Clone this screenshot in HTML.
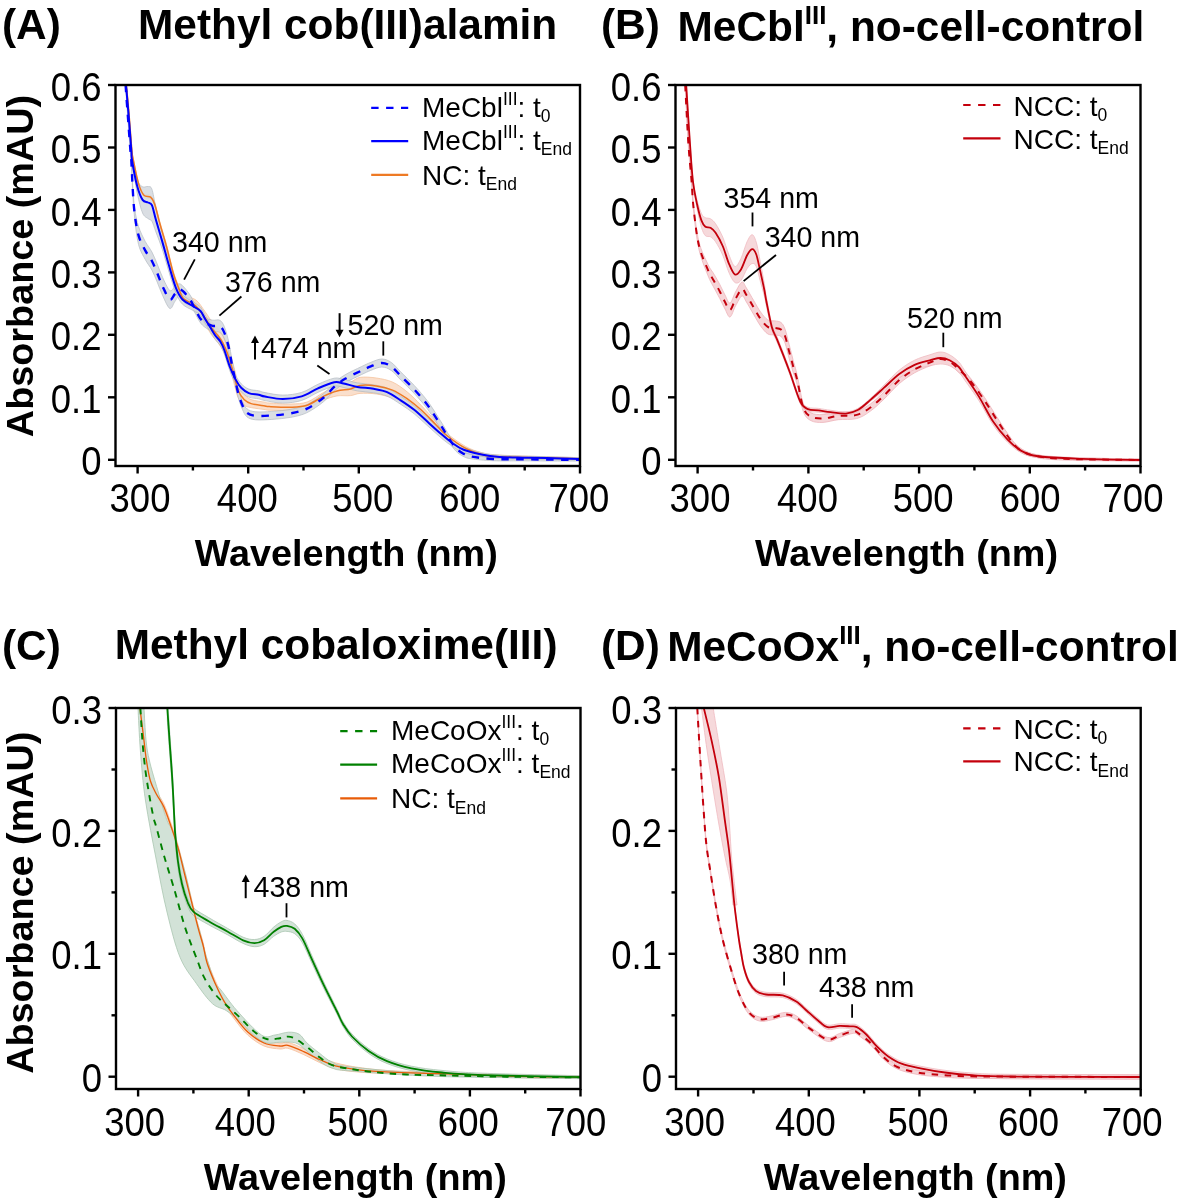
<!DOCTYPE html>
<html><head><meta charset="utf-8">
<style>
html,body{margin:0;padding:0;background:#fff;}
svg{display:block;will-change:transform;}
text{font-family:"Liberation Sans", sans-serif;fill:#000;}
.tk{font-size:36.5px;}
.lab{font-size:37.8px;font-weight:bold;}
.ttl{font-size:42.4px;font-weight:bold;}
.sup{font-size:26px;}
.lg{font-size:28px;}
.ss{font-size:17.5px;}
.an{font-size:28.6px;}
</style></head><body>
<svg width="1181" height="1203" viewBox="0 0 1181 1203">
<defs>
<clipPath id="clipA"><rect x="115.5" y="85.0" width="464.5" height="381.0"/></clipPath>
<clipPath id="clipB"><rect x="675.5" y="85.0" width="465.0" height="381.0"/></clipPath>
<clipPath id="clipC"><rect x="116.0" y="708.0" width="464.5" height="381.0"/></clipPath>
<clipPath id="clipD"><rect x="676.0" y="708.0" width="464.7" height="381.0"/></clipPath>
</defs>
<g clip-path="url(#clipA)">
<path d="M126.3,83.5 C126.8,88.3 128.1,101.5 129.0,112.4 C129.9,123.2 131.1,140.8 131.8,148.4 C132.5,156.1 132.2,152.8 133.3,158.4 C134.4,164.1 136.8,176.4 138.6,182.3 C140.4,188.1 141.9,191.3 143.9,193.5 C145.9,195.7 148.8,194.0 150.6,195.5 C152.4,196.9 153.0,197.7 154.6,202.1 C156.2,206.6 157.9,214.9 159.9,222.0 C161.9,229.1 164.3,236.3 166.5,244.5 C168.7,252.7 171.2,264.2 173.2,271.1 C175.2,277.9 176.8,281.5 178.5,285.6 C180.2,289.7 180.6,293.4 183.4,295.7 C186.2,298.0 192.0,297.0 195.6,299.7 C199.2,302.3 202.3,307.9 205.0,311.5 C207.7,315.1 209.4,318.4 211.5,321.2 C213.6,324.0 215.9,325.9 217.8,328.3 C219.7,330.7 221.3,332.7 222.9,335.6 C224.5,338.5 226.0,341.8 227.4,345.6 C228.8,349.3 230.2,353.6 231.5,358.2 C232.8,362.8 234.4,368.9 235.5,373.1 C236.6,377.4 236.9,380.1 238.3,383.6 C239.7,387.0 242.0,391.3 244.1,393.9 C246.2,396.6 247.6,398.2 251.1,399.6 C254.6,401.0 262.0,401.6 265.0,402.2 C268.0,402.8 264.9,402.7 269.2,403.0 C273.5,403.3 284.6,404.2 290.9,404.0 C297.2,403.8 301.7,403.9 307.1,402.0 C312.5,400.1 318.4,395.3 323.4,392.6 C328.4,390.0 332.5,387.8 337.0,386.1 C341.5,384.3 346.7,383.6 350.5,382.2 C354.3,380.7 355.7,378.1 360.0,377.4 C364.3,376.7 370.9,377.2 376.3,378.0 C381.7,378.8 387.3,379.8 392.5,382.1 C397.7,384.4 402.6,388.2 407.4,392.1 C412.1,395.9 416.2,400.2 421.0,405.2 C425.8,410.1 431.6,416.9 435.9,421.6 C440.2,426.3 441.7,429.1 446.7,433.2 C451.7,437.4 459.9,443.3 465.7,446.5 C471.5,449.7 475.9,451.1 481.5,452.5 C487.1,454.0 482.9,454.2 499.3,455.1 C515.7,455.9 566.5,457.3 580.0,457.7 L580.0,459.7 C566.5,459.5 515.7,458.9 499.3,458.3 C482.9,457.7 487.1,457.4 481.5,456.1 C475.9,454.7 471.5,453.3 465.7,450.3 C459.9,447.2 451.7,441.5 446.7,437.8 C441.7,434.0 440.2,431.7 435.9,427.8 C431.6,423.9 425.8,418.1 421.0,414.4 C416.2,410.8 412.1,408.4 407.4,405.7 C402.6,403.0 397.7,400.1 392.5,398.1 C387.3,396.1 381.7,394.8 376.3,394.0 C370.9,393.2 364.3,393.1 360.0,393.4 C355.7,393.7 354.3,395.2 350.5,395.6 C346.7,396.1 341.5,395.2 337.0,395.9 C332.5,396.7 328.4,398.1 323.4,400.2 C318.4,402.3 312.5,406.7 307.1,408.4 C301.7,410.1 297.2,410.1 290.9,410.4 C284.6,410.7 273.5,410.3 269.2,410.2 C264.9,410.1 268.0,410.0 265.0,409.6 C262.0,409.2 254.6,408.3 251.1,407.6 C247.6,406.8 246.2,406.7 244.1,405.1 C242.0,403.4 239.7,400.5 238.3,397.8 C236.9,395.1 236.6,392.9 235.5,388.9 C234.4,384.9 232.8,378.5 231.5,373.8 C230.2,369.2 228.8,364.7 227.4,360.8 C226.0,356.9 224.5,353.4 222.9,350.4 C221.3,347.3 219.7,345.1 217.8,342.5 C215.9,339.9 213.6,337.8 211.5,334.8 C209.4,331.8 207.7,328.3 205.0,324.5 C202.3,320.7 199.2,315.6 195.6,311.7 C192.0,307.9 186.2,305.2 183.4,301.5 C180.6,297.8 180.2,294.0 178.5,289.6 C176.8,285.2 175.2,281.8 173.2,274.9 C171.2,268.1 168.7,256.5 166.5,248.3 C164.3,240.1 161.9,232.7 159.9,225.6 C157.9,218.5 156.2,210.1 154.6,205.7 C153.0,201.2 152.4,200.4 150.6,198.9 C148.8,197.5 145.9,199.1 143.9,196.9 C141.9,194.6 140.4,191.4 138.6,185.5 C136.8,179.6 134.4,167.2 133.3,161.6 C132.2,155.9 132.5,159.2 131.8,151.6 C131.1,143.9 129.9,126.3 129.0,115.4 C128.1,104.6 126.8,91.3 126.3,86.5 Z" fill="#fadfcc" stroke="#f5c4a0" stroke-width="0.8"/>
<path d="M125.6,83.5 C125.9,88.3 126.9,101.7 127.7,112.0 C128.5,122.3 129.6,137.7 130.2,145.3 C130.8,152.9 130.9,151.0 131.3,157.4 C131.7,163.8 132.1,175.2 132.6,183.7 C133.1,192.2 133.6,201.1 134.6,208.3 C135.6,215.4 136.8,221.2 138.6,226.7 C140.4,232.2 143.0,237.2 145.2,241.4 C147.4,245.6 149.9,248.2 151.9,252.0 C153.9,255.8 155.4,259.8 157.2,264.0 C159.0,268.2 160.4,272.8 162.5,277.2 C164.6,281.6 167.7,288.9 169.8,290.5 C171.9,292.1 173.2,287.7 175.0,286.7 C176.8,285.6 178.2,282.9 180.5,284.1 C182.8,285.3 186.8,290.4 189.1,293.6 C191.4,296.8 192.6,299.8 194.4,303.2 C196.2,306.6 198.2,311.6 200.0,314.1 C201.8,316.6 203.0,317.0 205.1,318.1 C207.2,319.1 210.2,319.8 212.7,320.2 C215.1,320.6 217.9,319.2 219.8,320.3 C221.8,321.4 222.9,323.1 224.4,326.9 C225.9,330.7 227.8,337.6 229.0,343.0 C230.2,348.5 230.9,354.4 231.9,359.4 C232.9,364.5 233.7,368.2 234.8,373.2 C235.9,378.2 237.0,384.8 238.3,389.5 C239.6,394.1 241.0,398.1 242.4,401.3 C243.8,404.5 244.8,407.1 247.0,408.9 C249.2,410.6 251.5,411.4 255.7,411.8 C259.8,412.2 266.0,411.8 271.9,411.4 C277.8,411.0 285.0,410.4 290.9,409.3 C296.8,408.2 301.7,407.2 307.1,404.6 C312.5,402.0 318.9,397.4 323.4,393.8 C327.9,390.2 330.6,386.1 334.2,382.9 C337.8,379.7 340.6,377.5 345.1,374.8 C349.6,372.1 357.0,368.8 361.3,366.7 C365.6,364.6 367.4,363.7 370.8,362.4 C374.2,361.1 378.3,359.0 381.7,359.0 C385.1,359.0 388.0,360.2 391.2,362.4 C394.4,364.5 396.9,368.1 400.7,371.9 C404.5,375.7 410.1,381.0 414.2,385.4 C418.3,389.8 422.3,394.4 425.4,398.3 C428.5,402.2 430.2,404.7 433.0,409.0 C435.8,413.3 439.6,419.5 442.3,423.8 C445.0,428.2 446.7,431.5 449.0,435.0 C451.3,438.5 453.6,442.2 455.9,444.9 C458.2,447.5 460.5,449.2 463.0,450.8 C465.5,452.3 466.1,453.1 471.1,454.2 C476.1,455.3 484.5,456.7 493.1,457.3 C501.8,457.9 508.5,457.5 523.0,457.8 C537.5,458.0 570.5,458.5 580.0,458.7 L580.0,461.1 C570.5,461.1 537.5,460.9 523.0,460.8 C508.5,460.8 501.8,461.1 493.1,460.7 C484.5,460.4 476.1,459.5 471.1,458.8 C466.1,458.0 465.5,457.5 463.0,456.2 C460.5,455.0 458.2,453.5 455.9,451.1 C453.6,448.8 451.3,445.3 449.0,442.0 C446.7,438.7 445.0,435.7 442.3,431.6 C439.6,427.4 435.8,421.2 433.0,417.0 C430.2,412.8 428.5,410.2 425.4,406.3 C422.3,402.4 418.3,397.8 414.2,393.4 C410.1,389.0 404.5,383.7 400.7,379.9 C396.9,376.1 394.4,372.5 391.2,370.4 C388.0,368.2 385.1,367.0 381.7,367.0 C378.3,367.0 374.2,369.1 370.8,370.4 C367.4,371.7 365.6,372.6 361.3,374.7 C357.0,376.8 349.6,380.1 345.1,382.8 C340.6,385.5 337.8,387.7 334.2,390.9 C330.6,394.1 327.9,398.2 323.4,401.8 C318.9,405.4 312.5,410.0 307.1,412.6 C301.7,415.2 296.8,416.2 290.9,417.3 C285.0,418.4 277.8,419.0 271.9,419.4 C266.0,419.8 259.8,420.2 255.7,419.8 C251.5,419.4 249.2,418.6 247.0,416.9 C244.8,415.1 243.8,412.5 242.4,409.3 C241.0,406.1 239.6,402.4 238.3,397.9 C237.0,393.5 235.9,387.3 234.8,382.6 C233.7,377.9 232.9,374.5 231.9,369.8 C230.9,365.0 230.2,359.3 229.0,354.2 C227.8,349.0 225.9,342.5 224.4,338.9 C222.9,335.3 221.8,333.6 219.8,332.3 C217.9,331.0 215.1,332.2 212.7,331.4 C210.2,330.6 207.2,328.9 205.1,327.3 C203.0,325.8 201.8,324.7 200.0,322.1 C198.2,319.5 196.2,315.0 194.4,311.8 C192.6,308.6 191.4,305.6 189.1,302.8 C186.8,300.0 182.8,295.3 180.5,295.1 C178.2,294.9 176.8,299.1 175.0,301.3 C173.2,303.6 171.9,309.5 169.8,308.5 C167.7,307.5 164.6,299.6 162.5,295.2 C160.4,290.8 159.0,286.2 157.2,282.0 C155.4,277.8 153.9,273.8 151.9,270.0 C149.9,266.2 147.4,263.6 145.2,259.4 C143.0,255.2 140.4,251.6 138.6,244.7 C136.8,237.8 135.6,227.3 134.6,218.1 C133.6,208.9 133.1,198.8 132.6,189.5 C132.1,180.3 131.7,169.2 131.3,162.6 C130.9,156.1 130.8,157.9 130.2,150.1 C129.6,142.3 128.5,126.4 127.7,115.8 C126.9,105.2 125.9,91.4 125.6,86.5 Z" fill="#d4d9df" stroke="#aeb6be" stroke-width="0.8" opacity="0.85"/>
<path d="M126.0,83.5 C126.4,88.2 127.6,101.1 128.5,111.7 C129.4,122.3 130.7,139.5 131.3,147.0 C131.9,154.5 131.0,151.4 132.0,156.8 C133.0,162.3 135.5,174.8 137.3,179.8 C139.1,184.8 140.8,185.7 142.6,186.8 C144.4,187.9 146.3,186.1 147.9,186.5 C149.5,186.9 150.6,185.7 151.9,189.2 C153.2,192.7 154.1,200.1 155.9,207.7 C157.7,215.3 160.3,226.1 162.5,234.9 C164.7,243.6 167.0,252.1 169.2,260.0 C171.4,268.0 173.6,276.8 175.8,282.6 C178.0,288.4 179.6,291.5 182.5,294.8 C185.4,298.0 190.1,299.9 193.1,301.9 C196.1,304.0 198.5,304.8 200.5,307.0 C202.5,309.2 203.5,312.4 205.1,315.1 C206.7,317.8 208.5,320.6 210.2,323.3 C211.9,326.0 213.5,329.0 215.2,331.4 C216.9,333.8 218.8,335.1 220.3,337.5 C221.8,339.9 222.7,341.7 224.3,346.0 C225.9,350.3 228.2,358.6 230.1,363.5 C231.9,368.4 233.6,371.7 235.4,375.1 C237.2,378.5 239.0,381.5 241.2,383.8 C243.4,386.1 245.9,387.9 248.8,389.1 C251.7,390.3 256.0,390.2 258.7,390.8 C261.4,391.4 261.0,391.9 265.0,392.6 C269.0,393.3 276.7,395.1 282.8,395.1 C288.9,395.1 295.8,394.2 301.7,392.4 C307.6,390.6 312.6,386.7 318.0,384.3 C323.4,381.9 329.9,379.0 334.2,378.2 C338.5,377.4 339.8,378.7 343.7,379.5 C347.6,380.3 352.3,382.0 357.3,382.9 C362.3,383.8 368.6,383.9 373.6,384.8 C378.6,385.7 382.6,386.2 387.1,388.1 C391.6,390.0 396.2,393.4 400.7,396.3 C405.2,399.2 409.7,402.2 414.2,405.8 C418.7,409.4 423.3,413.9 427.8,418.0 C432.3,422.1 437.3,426.6 441.3,430.2 C445.3,433.7 448.2,436.5 451.9,439.4 C455.6,442.2 458.8,444.9 463.7,447.1 C468.6,449.3 475.6,451.4 481.5,452.7 C487.4,454.1 492.4,454.6 499.3,455.2 C506.2,455.8 515.1,455.9 523.0,456.2 C530.9,456.4 537.2,456.4 546.7,456.7 C556.2,457.0 574.5,457.5 580.0,457.7 L580.0,460.1 C574.5,460.0 556.2,459.6 546.7,459.5 C537.2,459.4 530.9,459.4 523.0,459.2 C515.1,459.1 506.2,459.1 499.3,458.6 C492.4,458.1 487.4,457.3 481.5,456.3 C475.6,455.3 468.6,454.2 463.7,452.5 C458.8,450.8 455.6,448.5 451.9,446.0 C448.2,443.6 445.3,441.4 441.3,438.0 C437.3,434.7 432.3,430.0 427.8,426.0 C423.3,422.0 418.7,417.4 414.2,413.8 C409.7,410.2 405.2,407.2 400.7,404.3 C396.2,401.4 391.6,398.0 387.1,396.1 C382.6,394.2 378.6,393.7 373.6,392.8 C368.6,391.9 362.3,391.8 357.3,390.9 C352.3,390.0 347.6,388.3 343.7,387.5 C339.8,386.7 338.5,385.4 334.2,386.2 C329.9,387.0 323.4,389.9 318.0,392.3 C312.6,394.7 307.6,398.6 301.7,400.4 C295.8,402.2 288.9,403.1 282.8,403.1 C276.7,403.1 269.0,401.3 265.0,400.6 C261.0,399.9 261.4,399.4 258.7,398.8 C256.0,398.2 251.7,398.3 248.8,397.1 C245.9,395.9 243.4,394.1 241.2,391.8 C239.0,389.5 237.2,386.5 235.4,383.1 C233.6,379.7 231.9,376.4 230.1,371.5 C228.2,366.6 225.9,358.3 224.3,354.0 C222.7,349.7 221.8,347.9 220.3,345.5 C218.8,343.1 216.9,341.8 215.2,339.4 C213.5,337.0 211.9,334.0 210.2,331.3 C208.5,328.6 206.7,325.8 205.1,323.1 C203.5,320.4 202.5,317.1 200.5,315.0 C198.5,312.9 196.1,312.3 193.1,310.5 C190.1,308.7 185.4,307.2 182.5,304.2 C179.6,301.3 178.0,297.9 175.8,292.6 C173.6,287.4 171.4,279.7 169.2,272.6 C167.0,265.5 164.7,256.7 162.5,249.9 C160.3,243.2 157.7,236.7 155.9,231.9 C154.1,227.1 153.2,223.4 151.9,221.2 C150.6,219.0 149.5,219.9 147.9,218.5 C146.3,217.1 144.4,217.2 142.6,213.0 C140.8,208.8 139.1,201.7 137.3,193.4 C135.5,185.1 133.0,169.9 132.0,163.2 C131.0,156.4 131.9,160.8 131.3,153.0 C130.7,145.1 129.4,127.2 128.5,116.1 C127.6,105.0 126.4,91.4 126.0,86.5 Z" fill="#d4d9df" stroke="#aeb6be" stroke-width="0.8" opacity="0.85"/>
<path d="M126.3,85.0 C126.8,89.8 128.1,103.1 129.0,113.9 C129.9,124.7 131.1,142.3 131.8,150.0 C132.5,157.7 132.2,154.3 133.3,160.0 C134.4,165.7 136.8,178.0 138.6,183.9 C140.4,189.8 141.9,193.0 143.9,195.2 C145.9,197.4 148.8,195.8 150.6,197.2 C152.4,198.6 153.0,199.5 154.6,203.9 C156.2,208.3 157.9,216.7 159.9,223.8 C161.9,230.9 164.3,238.2 166.5,246.4 C168.7,254.6 171.2,266.1 173.2,273.0 C175.2,279.9 176.8,283.3 178.5,287.6 C180.2,291.9 180.6,295.6 183.4,298.6 C186.2,301.6 192.0,302.5 195.6,305.7 C199.2,308.9 202.3,314.3 205.0,318.0 C207.7,321.7 209.4,325.1 211.5,328.0 C213.6,330.9 215.9,332.9 217.8,335.4 C219.7,337.9 221.3,340.0 222.9,343.0 C224.5,346.0 226.0,349.4 227.4,353.2 C228.8,357.0 230.2,361.4 231.5,366.0 C232.8,370.6 234.4,376.9 235.5,381.0 C236.6,385.1 236.9,387.6 238.3,390.7 C239.7,393.8 242.0,397.4 244.1,399.5 C246.2,401.6 247.6,402.5 251.1,403.6 C254.6,404.7 262.0,405.4 265.0,405.9 C268.0,406.4 264.9,406.4 269.2,406.6 C273.5,406.8 284.6,407.4 290.9,407.2 C297.2,407.0 301.7,407.0 307.1,405.2 C312.5,403.4 318.4,398.8 323.4,396.4 C328.4,394.0 332.5,392.2 337.0,391.0 C341.5,389.8 346.7,389.8 350.5,388.9 C354.3,388.0 355.7,385.9 360.0,385.4 C364.3,384.9 370.9,385.2 376.3,386.0 C381.7,386.8 387.3,388.0 392.5,390.1 C397.7,392.2 402.6,395.6 407.4,398.9 C412.1,402.2 416.2,405.5 421.0,409.8 C425.8,414.1 431.6,420.4 435.9,424.7 C440.2,429.0 441.7,431.6 446.7,435.5 C451.7,439.4 459.9,445.3 465.7,448.4 C471.5,451.5 475.9,452.9 481.5,454.3 C487.1,455.7 482.9,456.0 499.3,456.7 C515.7,457.4 566.5,458.4 580.0,458.7" fill="none" stroke="#ee7a24" stroke-width="1.5"/>
<path d="M126.0,85.0 C126.4,89.8 127.6,103.1 128.5,113.9 C129.4,124.7 130.7,142.3 131.3,150.0 C131.9,157.7 131.0,153.9 132.0,160.0 C133.0,166.1 135.5,179.9 137.3,186.6 C139.1,193.2 140.8,197.2 142.6,199.9 C144.4,202.6 146.3,201.6 147.9,202.5 C149.5,203.4 150.6,202.3 151.9,205.2 C153.2,208.1 154.1,213.6 155.9,219.8 C157.7,226.0 160.3,234.7 162.5,242.4 C164.7,250.2 167.0,258.8 169.2,266.3 C171.4,273.8 173.6,282.1 175.8,287.6 C178.0,293.1 179.6,296.4 182.5,299.5 C185.4,302.6 190.1,304.3 193.1,306.2 C196.1,308.1 198.5,308.9 200.5,311.0 C202.5,313.1 203.5,316.4 205.1,319.1 C206.7,321.8 208.5,324.6 210.2,327.3 C211.9,330.0 213.5,333.0 215.2,335.4 C216.9,337.8 218.8,339.1 220.3,341.5 C221.8,343.9 222.7,345.7 224.3,350.0 C225.9,354.3 228.2,362.6 230.1,367.5 C231.9,372.4 233.6,375.7 235.4,379.1 C237.2,382.5 239.0,385.5 241.2,387.8 C243.4,390.1 245.9,391.9 248.8,393.1 C251.7,394.3 256.0,394.2 258.7,394.8 C261.4,395.4 261.0,395.9 265.0,396.6 C269.0,397.3 276.7,399.1 282.8,399.1 C288.9,399.1 295.8,398.2 301.7,396.4 C307.6,394.6 312.6,390.7 318.0,388.3 C323.4,385.9 329.9,383.0 334.2,382.2 C338.5,381.4 339.8,382.7 343.7,383.5 C347.6,384.3 352.3,386.0 357.3,386.9 C362.3,387.8 368.6,387.9 373.6,388.8 C378.6,389.7 382.6,390.2 387.1,392.1 C391.6,394.0 396.2,397.4 400.7,400.3 C405.2,403.2 409.7,406.2 414.2,409.8 C418.7,413.4 423.3,417.9 427.8,422.0 C432.3,426.1 437.3,430.7 441.3,434.1 C445.3,437.6 448.2,440.1 451.9,442.7 C455.6,445.3 458.8,447.8 463.7,449.8 C468.6,451.8 475.6,453.3 481.5,454.5 C487.4,455.7 492.4,456.4 499.3,456.9 C506.2,457.4 515.1,457.5 523.0,457.7 C530.9,457.9 537.2,457.9 546.7,458.1 C556.2,458.3 574.5,458.8 580.0,458.9" fill="none" stroke="#0000ff" stroke-width="2"/>
<path d="M125.6,85.0 C125.9,89.8 126.9,103.5 127.7,113.9 C128.5,124.4 129.6,140.0 130.2,147.7 C130.8,155.4 130.9,153.5 131.3,160.0 C131.7,166.5 132.1,177.7 132.6,186.6 C133.1,195.5 133.6,205.0 134.6,213.2 C135.6,221.4 136.8,229.5 138.6,235.7 C140.4,241.9 143.0,246.2 145.2,250.4 C147.4,254.6 149.9,257.2 151.9,261.0 C153.9,264.8 155.4,268.8 157.2,273.0 C159.0,277.2 160.4,281.8 162.5,286.2 C164.6,290.6 167.7,298.2 169.8,299.5 C171.9,300.8 173.2,295.6 175.0,294.0 C176.8,292.4 178.2,288.9 180.5,289.6 C182.8,290.3 186.8,295.2 189.1,298.2 C191.4,301.2 192.6,304.2 194.4,307.5 C196.2,310.8 198.2,315.6 200.0,318.1 C201.8,320.6 203.0,321.4 205.1,322.7 C207.2,324.0 210.2,325.2 212.7,325.8 C215.1,326.4 217.9,325.1 219.8,326.3 C221.8,327.5 222.9,329.2 224.4,332.9 C225.9,336.6 227.8,343.3 229.0,348.6 C230.2,353.9 230.9,359.7 231.9,364.6 C232.9,369.5 233.7,373.0 234.8,377.9 C235.9,382.8 237.0,389.1 238.3,393.7 C239.6,398.3 241.0,402.1 242.4,405.3 C243.8,408.5 244.8,411.1 247.0,412.9 C249.2,414.6 251.5,415.4 255.7,415.8 C259.8,416.2 266.0,415.8 271.9,415.4 C277.8,415.0 285.0,414.4 290.9,413.3 C296.8,412.2 301.7,411.2 307.1,408.6 C312.5,406.0 318.9,401.4 323.4,397.8 C327.9,394.2 330.6,390.1 334.2,386.9 C337.8,383.7 340.6,381.5 345.1,378.8 C349.6,376.1 357.0,372.8 361.3,370.7 C365.6,368.6 367.4,367.7 370.8,366.4 C374.2,365.1 378.3,363.0 381.7,363.0 C385.1,363.0 388.0,364.2 391.2,366.4 C394.4,368.5 396.9,372.1 400.7,375.9 C404.5,379.7 410.1,385.0 414.2,389.4 C418.3,393.8 422.3,398.4 425.4,402.3 C428.5,406.2 430.2,408.8 433.0,413.0 C435.8,417.2 439.6,423.4 442.3,427.7 C445.0,431.9 446.7,435.1 449.0,438.5 C451.3,441.9 453.6,445.5 455.9,448.0 C458.2,450.5 460.5,452.1 463.0,453.5 C465.5,454.9 466.1,455.6 471.1,456.5 C476.1,457.4 484.5,458.5 493.1,459.0 C501.8,459.5 508.5,459.2 523.0,459.3 C537.5,459.4 570.5,459.8 580.0,459.9" fill="none" stroke="#0000ff" stroke-width="2.4" stroke-dasharray="7.4 7.5"/>
</g>
<g clip-path="url(#clipB)">
<path d="M685.2,83.0 C685.7,92.2 687.2,122.9 688.2,138.6 C689.2,154.3 690.6,165.8 691.5,177.1 C692.4,188.5 692.5,196.0 693.8,206.8 C695.0,217.6 696.6,232.4 699.0,241.9 C701.4,251.5 705.4,258.8 707.9,264.2 C710.4,269.6 712.0,270.8 714.0,274.2 C716.0,277.6 718.1,281.2 719.9,284.7 C721.7,288.2 723.3,291.9 725.0,295.0 C726.7,298.1 728.2,303.5 730.0,303.0 C731.8,302.5 733.5,295.5 735.5,292.0 C737.5,288.5 740.1,282.7 741.9,282.0 C743.7,281.3 744.4,284.9 746.4,288.0 C748.4,291.1 751.4,296.7 753.8,300.7 C756.2,304.7 758.3,308.8 760.6,312.0 C762.9,315.2 765.4,318.4 767.8,319.9 C770.2,321.4 772.7,320.5 774.9,320.9 C777.1,321.3 779.3,321.1 781.0,322.5 C782.7,323.9 783.6,325.4 785.0,329.0 C786.4,332.6 787.7,339.1 789.1,344.3 C790.5,349.5 791.9,355.3 793.2,360.5 C794.6,365.6 795.5,368.0 797.2,375.2 C798.9,382.3 801.0,397.3 803.3,403.5 C805.6,409.8 807.6,410.9 810.9,412.8 C814.2,414.6 818.5,414.7 823.1,414.6 C827.7,414.5 832.7,412.7 838.3,412.1 C843.9,411.5 851.2,412.6 856.6,411.2 C862.0,409.8 865.8,407.1 870.4,403.9 C875.0,400.6 879.3,396.4 884.1,391.8 C888.9,387.3 894.2,380.9 899.3,376.6 C904.4,372.3 909.5,368.9 914.6,366.0 C919.7,363.1 925.5,361.0 929.8,359.2 C934.1,357.5 937.1,355.8 940.5,355.7 C943.9,355.6 947.1,357.2 950.0,358.8 C952.9,360.3 954.4,362.0 957.8,365.2 C961.2,368.4 965.8,372.4 970.2,377.8 C974.7,383.1 980.0,390.9 984.5,397.4 C989.0,404.0 993.0,411.0 996.9,417.0 C1000.8,423.0 1004.0,428.5 1007.6,433.4 C1011.2,438.3 1013.8,443.0 1018.2,446.4 C1022.6,449.9 1026.5,452.3 1034.2,454.1 C1041.9,456.0 1046.8,456.6 1064.5,457.5 C1082.2,458.3 1127.8,458.7 1140.5,459.0 L1140.5,461.0 C1127.8,460.9 1082.2,460.8 1064.5,460.1 C1046.8,459.5 1041.9,458.7 1034.2,457.1 C1026.5,455.5 1022.6,453.7 1018.2,450.6 C1013.8,447.5 1011.2,443.2 1007.6,438.6 C1004.0,434.0 1000.8,428.9 996.9,423.0 C993.0,417.2 989.0,410.1 984.5,403.6 C980.0,397.1 974.7,389.4 970.2,384.0 C965.8,378.7 961.2,374.7 957.8,371.6 C954.4,368.5 952.9,366.8 950.0,365.2 C947.1,363.7 943.9,362.2 940.5,362.3 C937.1,362.4 934.1,364.2 929.8,366.0 C925.5,367.7 919.7,369.9 914.6,372.8 C909.5,375.8 904.4,379.2 899.3,383.6 C894.2,388.0 888.9,394.4 884.1,399.0 C879.3,403.6 875.0,407.9 870.4,411.1 C865.8,414.4 862.0,417.2 856.6,418.6 C851.2,420.0 843.9,419.1 838.3,419.7 C832.7,420.3 827.7,422.2 823.1,422.4 C818.5,422.5 814.2,422.5 810.9,420.6 C807.6,418.8 805.6,417.5 803.3,411.5 C801.0,405.5 798.9,391.3 797.2,384.8 C795.5,378.3 794.6,377.0 793.2,372.5 C791.9,368.1 790.5,363.2 789.1,358.3 C787.7,353.4 786.4,346.6 785.0,343.0 C783.6,339.4 782.7,337.9 781.0,336.5 C779.3,335.1 777.1,335.3 774.9,334.9 C772.7,334.5 770.2,335.4 767.8,333.9 C765.4,332.4 762.9,329.2 760.6,326.0 C758.3,322.8 756.2,318.7 753.8,314.7 C751.4,310.7 748.4,305.1 746.4,302.0 C744.4,298.9 743.7,295.3 741.9,296.0 C740.1,296.7 737.5,302.5 735.5,306.0 C733.5,309.5 731.8,316.5 730.0,317.0 C728.2,317.5 726.7,312.1 725.0,309.0 C723.3,305.9 721.7,302.2 719.9,298.7 C718.1,295.2 716.0,291.7 714.0,287.8 C712.0,283.9 710.4,281.7 707.9,275.4 C705.4,269.0 701.4,260.0 699.0,249.7 C696.6,239.3 695.0,224.3 693.8,213.2 C692.5,202.0 692.4,194.5 691.5,182.9 C690.6,171.2 689.2,159.4 688.2,143.4 C687.2,127.5 685.7,96.4 685.2,87.0 Z" fill="#f6d5d8" stroke="#eeb4ba" stroke-width="0.8"/>
<path d="M686.2,83.5 C686.8,92.7 688.7,123.2 689.8,138.9 C690.9,154.5 691.6,167.2 692.8,177.4 C694.0,187.5 695.5,193.7 697.0,199.8 C698.5,205.9 700.1,210.7 701.5,213.7 C702.9,216.7 703.9,216.8 705.4,217.7 C706.9,218.5 708.8,217.8 710.5,218.8 C712.2,219.8 713.6,220.8 715.6,223.8 C717.6,226.8 720.5,231.9 722.7,237.0 C724.9,242.1 726.8,249.5 728.8,254.4 C730.8,259.3 732.9,265.8 734.9,266.5 C736.9,267.1 739.0,262.5 741.0,258.4 C743.0,254.3 745.2,245.7 747.1,241.7 C749.0,237.8 750.6,234.6 752.1,234.7 C753.6,234.7 754.8,237.6 756.2,242.1 C757.6,246.6 758.9,254.8 760.3,261.7 C761.6,268.6 763.3,277.8 764.3,283.5 C765.3,289.2 765.0,289.2 766.2,295.9 C767.5,302.7 770.0,317.3 771.8,324.0 C773.6,330.8 775.0,331.8 776.9,336.4 C778.8,341.0 780.8,346.1 783.0,351.8 C785.2,357.5 787.2,362.7 790.1,370.7 C793.0,378.6 797.2,393.4 800.2,399.5 C803.2,405.6 804.9,405.7 807.9,407.2 C810.9,408.6 814.7,407.9 818.5,408.4 C822.3,409.0 826.1,409.7 830.7,410.3 C835.3,410.9 841.4,412.3 846.0,411.9 C850.6,411.6 854.1,410.5 858.2,408.2 C862.3,406.0 866.1,402.2 870.4,398.4 C874.7,394.5 879.3,389.7 884.1,385.0 C888.9,380.3 894.2,374.2 899.3,370.1 C904.4,365.9 909.5,362.7 914.6,360.2 C919.7,357.6 925.5,356.2 929.8,354.8 C934.1,353.5 937.2,352.0 940.5,352.0 C943.8,352.0 946.6,353.1 949.6,354.8 C952.6,356.4 956.2,359.3 958.8,361.9 C961.3,364.6 961.5,365.7 964.9,370.8 C968.3,376.0 974.4,384.9 979.1,392.9 C983.8,400.8 988.5,411.1 993.3,418.5 C998.0,425.8 1002.9,431.9 1007.6,437.0 C1012.4,442.1 1016.5,446.1 1021.8,449.2 C1027.1,452.2 1029.5,453.7 1039.6,455.2 C1049.7,456.6 1065.4,457.2 1082.2,457.8 C1099.0,458.4 1130.8,458.8 1140.5,459.0 L1140.5,461.0 C1130.8,460.8 1099.0,460.3 1082.2,459.8 C1065.4,459.3 1049.7,459.0 1039.6,457.8 C1029.5,456.7 1027.1,455.6 1021.8,453.0 C1016.5,450.4 1012.4,446.9 1007.6,442.2 C1002.9,437.6 998.0,432.0 993.3,425.1 C988.5,418.3 983.8,408.4 979.1,400.9 C974.4,393.5 968.3,385.2 964.9,380.4 C961.5,375.5 961.3,374.5 958.8,372.1 C956.2,369.6 952.6,367.2 949.6,365.8 C946.6,364.5 943.8,364.0 940.5,364.0 C937.2,364.0 934.1,364.8 929.8,365.8 C925.5,366.7 919.7,367.6 914.6,369.6 C909.5,371.7 904.4,374.5 899.3,377.9 C894.2,381.4 888.9,386.5 884.1,390.4 C879.3,394.3 874.7,397.9 870.4,401.4 C866.1,404.9 862.3,409.1 858.2,411.4 C854.1,413.7 850.6,414.9 846.0,415.3 C841.4,415.7 835.3,414.4 830.7,413.9 C826.1,413.4 822.3,412.6 818.5,412.2 C814.7,411.7 810.9,412.5 807.9,411.0 C804.9,409.6 803.2,409.5 800.2,403.5 C797.2,397.5 793.0,383.1 790.1,375.3 C787.2,367.5 785.2,362.4 783.0,356.8 C780.8,351.2 778.8,346.3 776.9,341.8 C775.0,337.3 773.6,335.9 771.8,329.8 C770.0,323.7 767.5,310.7 766.2,305.1 C765.0,299.4 765.3,299.9 764.3,295.9 C763.3,291.9 761.6,286.1 760.3,281.1 C758.9,276.2 757.6,269.3 756.2,266.3 C754.8,263.4 753.6,263.2 752.1,263.5 C750.6,263.9 749.0,265.8 747.1,268.6 C745.2,271.5 743.0,278.1 741.0,280.4 C739.0,282.7 736.9,283.9 734.9,282.5 C732.9,281.1 730.8,276.8 728.8,272.2 C726.8,267.6 724.9,260.1 722.7,255.0 C720.5,249.9 717.6,244.8 715.6,241.8 C713.6,238.8 712.2,237.8 710.5,236.8 C708.8,235.8 706.9,237.2 705.4,235.7 C703.9,234.1 702.9,232.1 701.5,227.5 C700.1,222.9 698.5,215.7 697.0,208.2 C695.5,200.7 694.0,193.5 692.8,182.6 C691.6,171.8 690.9,159.1 689.8,143.1 C688.7,127.1 686.8,96.0 686.2,86.5 Z" fill="#f6d5d8" stroke="#eeb4ba" stroke-width="0.8" opacity="0.9"/>
<path d="M686.2,85.0 C686.8,94.3 688.7,125.2 689.8,141.0 C690.9,156.8 691.6,169.5 692.8,180.0 C694.0,190.5 695.5,197.2 697.0,204.0 C698.5,210.8 700.1,216.8 701.5,220.6 C702.9,224.4 703.9,225.5 705.4,226.7 C706.9,227.9 708.8,226.8 710.5,227.8 C712.2,228.8 713.6,229.8 715.6,232.8 C717.6,235.8 720.5,240.9 722.7,246.0 C724.9,251.1 726.8,258.6 728.8,263.3 C730.8,268.1 732.9,273.5 734.9,274.5 C736.9,275.5 739.0,272.6 741.0,269.4 C743.0,266.2 745.2,258.6 747.1,255.2 C749.0,251.8 750.6,249.3 752.1,249.1 C753.6,248.9 754.8,250.5 756.2,254.2 C757.6,257.9 758.9,265.5 760.3,271.4 C761.6,277.3 763.3,284.8 764.3,289.7 C765.3,294.6 765.0,294.3 766.2,300.5 C767.5,306.7 770.0,320.5 771.8,326.9 C773.6,333.3 775.0,334.5 776.9,339.1 C778.8,343.7 780.8,348.7 783.0,354.3 C785.2,359.9 787.2,365.1 790.1,373.0 C793.0,380.9 797.2,395.5 800.2,401.5 C803.2,407.5 804.9,407.6 807.9,409.1 C810.9,410.6 814.7,409.8 818.5,410.3 C822.3,410.8 826.1,411.6 830.7,412.1 C835.3,412.7 841.4,414.0 846.0,413.6 C850.6,413.2 854.1,412.1 858.2,409.8 C862.3,407.5 866.1,403.6 870.4,399.9 C874.7,396.2 879.3,392.0 884.1,387.7 C888.9,383.4 894.2,377.8 899.3,374.0 C904.4,370.2 909.5,367.2 914.6,364.9 C919.7,362.6 925.5,361.4 929.8,360.3 C934.1,359.2 937.2,358.0 940.5,358.0 C943.8,358.0 946.6,358.8 949.6,360.3 C952.6,361.8 956.2,364.4 958.8,367.0 C961.3,369.6 961.5,370.6 964.9,375.6 C968.3,380.6 974.4,389.2 979.1,396.9 C983.8,404.6 988.5,414.7 993.3,421.8 C998.0,428.9 1002.9,434.7 1007.6,439.6 C1012.4,444.5 1016.5,448.3 1021.8,451.1 C1027.1,453.9 1029.5,455.2 1039.6,456.5 C1049.7,457.8 1065.4,458.2 1082.2,458.8 C1099.0,459.4 1130.8,459.8 1140.5,460.0" fill="none" stroke="#c4000c" stroke-width="1.8"/>
<path d="M685.2,85.0 C685.7,94.3 687.2,125.2 688.2,141.0 C689.2,156.8 690.6,168.5 691.5,180.0 C692.4,191.5 692.5,199.0 693.8,210.0 C695.0,221.0 696.6,235.8 699.0,245.8 C701.4,255.8 705.4,263.9 707.9,269.8 C710.4,275.7 712.0,277.4 714.0,281.0 C716.0,284.6 718.1,288.2 719.9,291.7 C721.7,295.2 723.3,298.9 725.0,302.0 C726.7,305.1 728.2,310.5 730.0,310.0 C731.8,309.5 733.5,302.5 735.5,299.0 C737.5,295.5 740.1,289.7 741.9,289.0 C743.7,288.3 744.4,291.9 746.4,295.0 C748.4,298.1 751.4,303.7 753.8,307.7 C756.2,311.7 758.3,315.8 760.6,319.0 C762.9,322.2 765.4,325.4 767.8,326.9 C770.2,328.4 772.7,327.5 774.9,327.9 C777.1,328.3 779.3,328.1 781.0,329.5 C782.7,330.9 783.6,332.4 785.0,336.0 C786.4,339.6 787.7,346.2 789.1,351.3 C790.5,356.4 791.9,361.7 793.2,366.5 C794.6,371.3 795.5,373.2 797.2,380.0 C798.9,386.8 801.0,401.4 803.3,407.5 C805.6,413.6 807.6,414.9 810.9,416.7 C814.2,418.5 818.5,418.6 823.1,418.5 C827.7,418.4 832.7,416.5 838.3,415.9 C843.9,415.3 851.2,416.3 856.6,414.9 C862.0,413.5 865.8,410.8 870.4,407.5 C875.0,404.2 879.3,400.0 884.1,395.4 C888.9,390.8 894.2,384.4 899.3,380.1 C904.4,375.8 909.5,372.3 914.6,369.4 C919.7,366.5 925.5,364.3 929.8,362.6 C934.1,360.9 937.1,359.1 940.5,359.0 C943.9,358.9 947.1,360.4 950.0,362.0 C952.9,363.6 954.4,365.2 957.8,368.4 C961.2,371.5 965.8,375.5 970.2,380.9 C974.7,386.2 980.0,394.0 984.5,400.5 C989.0,407.0 993.0,414.1 996.9,420.0 C1000.8,425.9 1004.0,431.2 1007.6,436.0 C1011.2,440.8 1013.8,445.2 1018.2,448.5 C1022.6,451.8 1026.5,453.9 1034.2,455.6 C1041.9,457.3 1046.8,458.1 1064.5,458.8 C1082.2,459.5 1127.8,459.8 1140.5,460.0" fill="none" stroke="#c4000c" stroke-width="2" stroke-dasharray="6.5 6.5"/>
</g>
<g clip-path="url(#clipC)">
<path d="M139.9,705.0 C140.5,709.6 142.3,723.8 143.4,732.6 C144.5,741.4 145.3,750.4 146.5,758.0 C147.7,765.6 148.8,772.7 150.5,778.3 C152.2,783.9 154.4,787.3 156.6,791.5 C158.8,795.7 161.6,799.0 163.8,803.7 C166.0,808.5 167.6,813.2 169.9,820.0 C172.2,826.8 175.4,835.8 177.9,844.4 C180.4,853.0 182.4,862.5 184.7,871.5 C187.0,880.5 189.2,889.6 191.5,898.6 C193.8,907.6 196.4,918.5 198.3,925.7 C200.2,932.9 201.5,936.3 203.0,942.0 C204.5,947.7 205.1,953.6 207.1,960.0 C209.1,966.4 212.3,973.9 215.2,980.4 C218.1,986.9 221.5,993.9 224.7,999.3 C227.9,1004.7 230.3,1007.9 234.2,1012.9 C238.0,1017.9 242.8,1024.6 247.8,1029.1 C252.8,1033.6 258.6,1037.7 264.0,1040.0 C269.4,1042.3 276.0,1042.6 280.0,1043.0 C284.0,1043.4 283.9,1041.4 287.9,1042.3 C291.8,1043.2 298.4,1046.2 303.7,1048.6 C309.0,1051.0 314.2,1054.1 319.5,1056.5 C324.8,1058.9 328.7,1061.0 335.3,1062.8 C341.9,1064.6 349.8,1066.2 359.0,1067.5 C368.2,1068.8 377.1,1069.9 390.6,1070.7 C404.1,1071.5 420.6,1071.6 440.0,1072.3 C459.4,1073.0 483.2,1074.1 506.7,1074.7 C530.2,1075.3 568.6,1075.7 581.0,1075.9 L581.0,1078.3 C568.6,1078.1 530.2,1077.8 506.7,1077.3 C483.2,1076.8 459.4,1075.7 440.0,1075.1 C420.6,1074.5 404.1,1074.2 390.6,1073.7 C377.1,1073.2 368.2,1072.9 359.0,1072.1 C349.8,1071.3 341.9,1070.4 335.3,1068.8 C328.7,1067.2 324.8,1064.9 319.5,1062.5 C314.2,1060.1 309.0,1057.0 303.7,1054.6 C298.4,1052.2 291.8,1049.2 287.9,1048.3 C283.9,1047.4 284.0,1049.4 280.0,1049.0 C276.0,1048.6 269.4,1048.3 264.0,1046.0 C258.6,1043.7 252.8,1039.6 247.8,1035.1 C242.8,1030.6 238.0,1023.9 234.2,1018.9 C230.3,1013.9 227.9,1010.7 224.7,1005.3 C221.5,999.9 218.1,992.9 215.2,986.4 C212.3,979.9 209.1,972.4 207.1,966.0 C205.1,959.6 204.5,953.7 203.0,948.0 C201.5,942.3 200.2,938.9 198.3,931.7 C196.4,924.5 193.8,913.6 191.5,904.6 C189.2,895.6 187.0,886.5 184.7,877.5 C182.4,868.5 180.4,859.0 177.9,850.4 C175.4,841.8 172.2,832.8 169.9,826.0 C167.6,819.2 166.0,814.5 163.8,809.7 C161.6,805.0 158.8,801.7 156.6,797.5 C154.4,793.3 152.2,789.9 150.5,784.3 C148.8,778.7 147.7,771.6 146.5,764.0 C145.3,756.4 144.5,747.4 143.4,738.6 C142.3,729.8 140.5,715.6 139.9,711.0 Z" fill="#fbdcc8" stroke="#f6bf9c" stroke-width="0.8"/>
<path d="M138.0,708.0 C138.4,715.1 139.2,735.5 140.4,750.8 C141.6,766.1 142.7,781.6 145.4,800.0 C148.1,818.4 152.9,842.3 156.5,861.0 C160.1,879.7 163.1,896.0 167.0,912.0 C170.9,928.0 175.1,945.3 180.0,957.2 C184.9,969.1 190.9,975.6 196.3,983.4 C201.7,991.1 207.5,999.2 212.5,1003.7 C217.5,1008.2 221.6,1007.6 226.1,1010.5 C230.6,1013.4 235.1,1017.0 239.6,1021.0 C244.1,1025.0 248.7,1031.1 253.2,1034.8 C257.7,1038.5 262.2,1041.8 266.7,1043.0 C271.2,1044.2 275.1,1042.2 280.0,1042.2 C284.9,1042.2 291.3,1041.5 295.8,1043.0 C300.3,1044.5 302.9,1047.9 306.9,1050.9 C310.8,1053.9 315.3,1058.3 319.5,1061.2 C323.7,1064.1 326.8,1066.5 332.1,1068.1 C337.4,1069.7 333.1,1069.6 351.1,1071.0 C369.1,1072.4 401.7,1075.3 440.0,1076.5 C478.3,1077.7 557.5,1078.0 581.0,1078.3 L581.0,1076.3 C557.5,1075.9 478.3,1075.5 440.0,1074.0 C401.7,1072.5 369.1,1069.0 351.1,1067.0 C333.1,1065.0 337.4,1064.4 332.1,1062.1 C326.8,1059.8 323.7,1056.4 319.5,1053.2 C315.3,1050.0 310.3,1046.1 306.9,1042.9 C303.5,1039.7 302.3,1036.0 299.2,1034.2 C296.1,1032.4 292.4,1032.1 288.4,1032.2 C284.4,1032.3 279.5,1034.5 275.0,1035.0 C270.5,1035.5 267.7,1039.0 261.3,1034.9 C255.0,1030.8 243.6,1018.0 236.9,1010.5 C230.2,1003.0 224.7,994.6 221.0,990.0 C217.3,985.4 216.8,986.7 215.0,983.0 C213.2,979.3 211.7,973.2 210.0,968.0 C208.3,962.8 206.8,958.3 205.0,952.0 C203.2,945.7 201.3,936.7 199.5,930.0 C197.7,923.3 196.2,921.0 194.0,912.0 C191.8,903.0 189.4,889.0 186.1,876.0 C182.8,863.0 177.1,843.2 173.9,833.9 C170.7,824.5 169.7,827.8 166.8,819.9 C163.9,812.0 159.5,796.2 156.6,786.4 C153.7,776.6 151.3,768.7 149.5,761.0 C147.7,753.3 146.9,748.8 146.0,740.0 C145.1,731.2 144.3,713.3 144.0,708.0 Z" fill="#cfe0d4" stroke="#a3c2ab" stroke-width="0.8" opacity="0.92"/>
<path d="M167.3,696.1 C167.7,702.6 169.1,722.5 169.9,735.2 C170.8,747.8 171.7,759.3 172.4,772.0 C173.2,784.7 173.9,802.6 174.4,811.6 C174.9,820.6 174.6,818.9 175.2,826.0 C175.8,833.1 176.8,845.4 177.9,854.2 C179.0,863.0 180.4,871.5 182.0,878.8 C183.6,886.1 185.7,893.2 187.6,898.0 C189.5,902.9 189.9,904.5 193.4,907.8 C196.9,911.0 203.0,914.2 208.7,917.6 C214.4,921.1 222.1,925.2 227.8,928.5 C233.5,931.7 238.7,935.3 243.1,937.2 C247.5,939.0 251.0,939.7 254.5,939.5 C258.0,939.4 260.9,938.4 264.1,936.3 C267.3,934.3 270.8,929.5 273.7,927.1 C276.6,924.7 279.1,922.9 281.3,921.8 C283.5,920.7 284.8,920.0 287.0,920.4 C289.2,920.8 292.1,921.6 294.7,923.9 C297.2,926.2 299.4,928.9 302.3,934.2 C305.2,939.5 308.4,947.9 311.9,955.7 C315.4,963.5 319.2,972.2 323.3,981.0 C327.4,989.8 333.4,1001.6 336.7,1008.4 C340.0,1015.1 340.4,1017.2 343.0,1021.5 C345.6,1025.8 347.7,1029.5 352.0,1034.0 C356.3,1038.6 362.8,1044.5 368.6,1048.6 C374.4,1052.8 379.9,1056.0 387.0,1058.9 C394.1,1061.8 402.2,1064.3 411.4,1066.2 C420.6,1068.1 430.1,1069.3 442.0,1070.4 C453.9,1071.6 459.7,1072.3 482.9,1073.2 C506.1,1074.1 564.6,1075.3 581.0,1075.7 L581.0,1078.7 C564.6,1078.4 506.1,1077.7 482.9,1077.0 C459.7,1076.3 453.9,1075.6 442.0,1074.6 C430.1,1073.5 420.6,1072.4 411.4,1070.6 C402.2,1068.8 394.1,1066.4 387.0,1063.5 C379.9,1060.6 374.4,1057.5 368.6,1053.4 C362.8,1049.3 356.3,1043.4 352.0,1039.0 C347.7,1034.5 345.6,1030.7 343.0,1026.5 C340.4,1022.3 340.0,1020.2 336.7,1013.6 C333.4,1007.1 327.4,995.8 323.3,987.4 C319.2,979.0 315.4,970.6 311.9,963.1 C308.4,955.6 305.2,947.5 302.3,942.6 C299.4,937.7 297.2,935.5 294.7,933.7 C292.1,931.8 289.2,931.7 287.0,931.4 C284.8,931.1 283.5,931.2 281.3,932.0 C279.1,932.8 276.6,934.3 273.7,936.3 C270.8,938.3 267.3,942.5 264.1,944.3 C260.9,946.0 258.0,946.8 254.5,946.7 C251.0,946.5 247.5,945.4 243.1,943.4 C238.7,941.5 233.5,938.0 227.8,934.9 C222.1,931.8 214.4,928.0 208.7,924.8 C203.0,921.5 196.9,918.6 193.4,915.4 C189.9,912.3 189.5,910.3 187.6,906.0 C185.7,901.6 183.6,895.6 182.0,889.2 C180.4,882.8 179.0,875.7 177.9,867.8 C176.8,859.9 175.8,848.4 175.2,841.8 C174.6,835.2 174.9,836.7 174.4,828.2 C173.9,819.7 173.2,802.6 172.4,790.6 C171.7,778.6 170.8,768.0 169.9,756.2 C169.1,744.5 167.7,725.9 167.3,719.9 Z" fill="#cfe0d4" stroke="#a3c2ab" stroke-width="0.8" opacity="0.92"/>
<path d="M139.9,708.0 C140.5,712.6 142.3,726.8 143.4,735.6 C144.5,744.4 145.3,753.4 146.5,761.0 C147.7,768.6 148.8,775.7 150.5,781.3 C152.2,786.9 154.4,790.3 156.6,794.5 C158.8,798.7 161.6,802.0 163.8,806.7 C166.0,811.5 167.6,816.2 169.9,823.0 C172.2,829.8 175.4,838.8 177.9,847.4 C180.4,856.0 182.4,865.5 184.7,874.5 C187.0,883.5 189.2,892.6 191.5,901.6 C193.8,910.6 196.4,921.5 198.3,928.7 C200.2,935.9 201.5,939.3 203.0,945.0 C204.5,950.7 205.1,956.6 207.1,963.0 C209.1,969.4 212.3,976.9 215.2,983.4 C218.1,989.9 221.5,996.9 224.7,1002.3 C227.9,1007.7 230.3,1010.9 234.2,1015.9 C238.0,1020.9 242.8,1027.6 247.8,1032.1 C252.8,1036.6 258.6,1040.7 264.0,1043.0 C269.4,1045.3 276.0,1045.6 280.0,1046.0 C284.0,1046.4 283.9,1044.4 287.9,1045.3 C291.8,1046.2 298.4,1049.2 303.7,1051.6 C309.0,1054.0 314.2,1057.1 319.5,1059.5 C324.8,1061.9 328.7,1064.1 335.3,1065.8 C341.9,1067.5 349.8,1068.7 359.0,1069.8 C368.2,1070.9 377.1,1071.5 390.6,1072.2 C404.1,1072.9 420.6,1073.1 440.0,1073.7 C459.4,1074.3 483.2,1075.4 506.7,1076.0 C530.2,1076.6 568.6,1076.9 581.0,1077.1" fill="none" stroke="#e85c08" stroke-width="1.3"/>
<path d="M167.3,708.0 C167.7,714.3 169.1,733.5 169.9,745.7 C170.8,757.9 171.7,768.9 172.4,781.3 C173.2,793.7 173.9,811.1 174.4,819.9 C174.9,828.7 174.6,827.0 175.2,833.9 C175.8,840.8 176.8,852.6 177.9,861.0 C179.0,869.4 180.4,877.2 182.0,884.0 C183.6,890.8 185.7,897.4 187.6,902.0 C189.5,906.6 189.9,908.4 193.4,911.6 C196.9,914.8 203.0,917.9 208.7,921.2 C214.4,924.6 222.1,928.5 227.8,931.7 C233.5,934.9 238.7,938.4 243.1,940.3 C247.5,942.2 251.0,943.1 254.5,943.1 C258.0,943.1 260.9,942.2 264.1,940.3 C267.3,938.4 270.8,933.9 273.7,931.7 C276.6,929.5 279.1,927.9 281.3,926.9 C283.5,925.9 284.8,925.6 287.0,925.9 C289.2,926.2 292.1,926.7 294.7,928.8 C297.2,930.9 299.4,933.3 302.3,938.4 C305.2,943.5 308.4,951.8 311.9,959.4 C315.4,967.0 319.2,975.6 323.3,984.2 C327.4,992.8 333.4,1004.4 336.7,1011.0 C340.0,1017.6 340.4,1019.8 343.0,1024.0 C345.6,1028.2 347.7,1032.0 352.0,1036.5 C356.3,1041.0 362.8,1046.9 368.6,1051.0 C374.4,1055.1 379.9,1058.3 387.0,1061.2 C394.1,1064.1 402.2,1066.5 411.4,1068.4 C420.6,1070.3 430.1,1071.4 442.0,1072.5 C453.9,1073.6 459.7,1074.3 482.9,1075.1 C506.1,1075.9 564.6,1076.8 581.0,1077.2" fill="none" stroke="#008000" stroke-width="1.8"/>
<path d="M140.4,708.0 C140.7,713.4 141.6,730.1 142.4,740.6 C143.2,751.1 144.3,761.8 145.5,771.1 C146.7,780.4 148.2,788.7 149.5,796.5 C150.8,804.3 152.5,812.8 153.6,817.9 C154.7,823.0 154.5,820.6 156.3,827.1 C158.1,833.6 161.5,846.7 164.4,856.9 C167.3,867.1 170.7,877.2 173.9,888.1 C177.1,899.0 180.8,913.4 183.4,922.0 C186.0,930.6 187.3,934.1 189.5,940.0 C191.7,945.9 193.8,951.3 196.3,957.6 C198.8,963.9 201.2,971.8 204.4,977.9 C207.6,984.0 211.6,989.7 215.2,994.2 C218.8,998.7 222.0,1001.2 226.1,1005.0 C230.2,1008.8 235.1,1012.9 239.6,1017.2 C244.1,1021.5 248.7,1027.2 253.2,1030.8 C257.7,1034.4 262.2,1037.8 266.7,1039.0 C271.2,1040.2 276.5,1038.6 280.0,1038.2 C283.5,1037.8 285.3,1036.5 287.9,1036.6 C290.5,1036.7 292.6,1037.3 295.8,1039.0 C299.0,1040.7 302.9,1043.9 306.9,1046.9 C310.8,1049.9 315.3,1054.2 319.5,1057.2 C323.7,1060.2 326.8,1063.1 332.1,1065.1 C337.4,1067.1 344.0,1067.8 351.1,1069.0 C358.2,1070.2 365.6,1071.3 374.8,1072.2 C384.0,1073.1 395.5,1074.0 406.4,1074.5 C417.3,1075.0 423.3,1074.9 440.0,1075.3 C456.7,1075.7 483.2,1076.4 506.7,1076.7 C530.2,1077.0 568.6,1077.2 581.0,1077.3" fill="none" stroke="#008000" stroke-width="1.9" stroke-dasharray="6.5 6"/>
</g>
<g clip-path="url(#clipD)">
<path d="M697.3,706.0 C697.8,714.8 699.3,742.0 700.4,759.0 C701.5,776.0 702.6,794.2 703.6,808.0 C704.6,821.8 705.2,831.7 706.3,841.9 C707.4,852.1 708.7,858.8 710.3,869.0 C711.9,879.2 713.7,891.6 715.7,902.9 C717.7,914.2 719.9,925.8 722.5,936.7 C725.1,947.6 728.5,959.0 731.3,968.3 C734.1,977.6 736.5,985.7 739.4,992.7 C742.3,999.7 745.5,1006.2 748.9,1010.3 C752.3,1014.4 755.9,1016.2 759.7,1017.1 C763.5,1018.0 767.6,1016.6 771.9,1015.8 C776.2,1015.0 781.4,1012.4 785.5,1012.4 C789.6,1012.4 792.2,1013.4 796.3,1015.8 C800.4,1018.2 804.7,1023.0 809.9,1026.6 C815.1,1030.2 822.5,1036.3 827.5,1037.4 C832.5,1038.5 835.4,1034.8 839.7,1033.4 C844.0,1032.1 850.1,1029.7 853.2,1029.3 C856.3,1028.9 855.2,1029.3 858.1,1031.2 C861.0,1033.1 866.0,1036.6 870.3,1040.7 C874.6,1044.8 879.4,1051.5 883.9,1055.6 C888.4,1059.6 891.8,1062.5 897.4,1065.0 C903.0,1067.5 909.9,1069.1 917.8,1070.5 C925.7,1071.9 933.6,1072.5 944.9,1073.2 C956.2,1073.9 952.8,1074.2 985.5,1074.5 C1018.2,1074.8 1115.1,1074.9 1141.0,1075.0 L1141.0,1079.0 C1115.1,1078.9 1018.2,1078.8 985.5,1078.5 C952.8,1078.2 956.2,1077.9 944.9,1077.2 C933.6,1076.5 925.7,1075.9 917.8,1074.5 C909.9,1073.1 903.0,1071.5 897.4,1069.0 C891.8,1066.5 888.4,1063.6 883.9,1059.6 C879.4,1055.5 874.6,1048.8 870.3,1044.7 C866.0,1040.6 861.0,1037.1 858.1,1035.2 C855.2,1033.3 856.3,1032.9 853.2,1033.3 C850.1,1033.7 844.0,1036.1 839.7,1037.4 C835.4,1038.8 832.5,1042.5 827.5,1041.4 C822.5,1040.3 815.1,1034.2 809.9,1030.6 C804.7,1027.0 800.4,1022.2 796.3,1019.8 C792.2,1017.4 789.6,1016.4 785.5,1016.4 C781.4,1016.4 776.2,1019.0 771.9,1019.8 C767.6,1020.6 763.5,1022.0 759.7,1021.1 C755.9,1020.2 752.3,1018.4 748.9,1014.3 C745.5,1010.2 742.3,1003.7 739.4,996.7 C736.5,989.7 734.1,981.6 731.3,972.3 C728.5,963.0 725.1,951.6 722.5,940.7 C719.9,929.8 717.7,918.2 715.7,906.9 C713.7,895.6 711.9,883.2 710.3,873.0 C708.7,862.8 707.4,856.1 706.3,845.9 C705.2,835.7 704.6,825.8 703.6,812.0 C702.6,798.2 701.5,780.0 700.4,763.0 C699.3,746.0 697.8,718.8 697.3,710.0 Z" fill="#f6d5d8" stroke="#eeb4ba" stroke-width="0.8"/>
<path d="M701.5,708.0 C702.4,715.0 705.0,736.3 707.0,750.0 C709.0,763.7 711.2,777.5 713.2,790.0 C715.2,802.5 717.1,814.0 719.0,825.0 C720.9,836.0 723.0,846.8 724.8,856.0 C726.6,865.2 728.6,871.8 730.0,880.0 C731.4,888.2 732.5,900.8 733.0,905.0 L737.0,905.0 C736.5,900.8 734.9,888.2 734.0,880.0 C733.1,871.8 732.2,865.2 731.5,856.0 C730.8,846.8 730.3,836.0 729.5,825.0 C728.7,814.0 728.1,802.5 726.5,790.0 C724.9,777.5 722.2,763.7 720.0,750.0 C717.8,736.3 714.3,715.0 713.2,708.0 Z" fill="#f6d5d8" stroke="#eeb4ba" stroke-width="0.8" opacity="0.9"/>
<path d="M735.0,907.8 C735.7,912.8 737.9,930.3 739.0,937.8 C740.1,945.3 740.7,948.1 741.5,952.8 C742.3,957.5 742.8,961.3 744.0,965.8 C745.2,970.3 747.0,976.0 749.0,979.8 C751.0,983.6 753.2,986.7 756.0,988.8 C758.8,990.9 761.5,991.6 766.0,992.3 C770.5,993.0 777.8,992.0 782.8,993.2 C787.8,994.4 792.2,996.7 796.3,999.3 C800.3,1001.9 803.5,1005.6 807.1,1008.8 C810.7,1012.0 814.6,1015.6 818.0,1018.3 C821.4,1021.0 823.9,1024.1 827.5,1025.0 C831.1,1025.9 836.0,1023.8 839.7,1023.7 C843.5,1023.6 847.1,1024.0 850.0,1024.2 C852.9,1024.4 854.1,1023.5 856.8,1024.9 C859.5,1026.2 862.9,1029.0 866.3,1032.3 C869.7,1035.6 873.5,1040.9 877.1,1044.5 C880.7,1048.1 883.8,1051.2 887.9,1054.0 C892.0,1056.8 896.1,1059.5 901.5,1061.5 C906.9,1063.5 913.3,1064.7 920.5,1066.2 C927.7,1067.7 936.3,1069.2 944.9,1070.3 C953.5,1071.4 961.1,1072.3 972.0,1073.0 C982.9,1073.7 981.8,1074.0 1010.0,1074.3 C1038.2,1074.6 1119.2,1074.7 1141.0,1074.8 L1141.0,1079.2 C1119.2,1079.1 1038.2,1079.0 1010.0,1078.7 C981.8,1078.4 982.9,1078.1 972.0,1077.4 C961.1,1076.7 953.5,1075.8 944.9,1074.7 C936.3,1073.6 927.7,1072.1 920.5,1070.6 C913.3,1069.1 906.9,1067.9 901.5,1065.9 C896.1,1063.9 892.0,1061.2 887.9,1058.4 C883.8,1055.6 880.7,1052.5 877.1,1048.9 C873.5,1045.3 869.7,1040.0 866.3,1036.7 C862.9,1033.4 859.5,1030.6 856.8,1029.3 C854.1,1028.0 852.9,1028.8 850.0,1028.6 C847.1,1028.4 843.5,1028.0 839.7,1028.1 C836.0,1028.2 831.1,1030.3 827.5,1029.4 C823.9,1028.5 821.4,1025.4 818.0,1022.7 C814.6,1020.0 810.7,1016.4 807.1,1013.2 C803.5,1010.0 800.3,1006.3 796.3,1003.7 C792.2,1001.1 787.8,998.8 782.8,997.6 C777.8,996.4 770.5,997.4 766.0,996.7 C761.5,996.0 758.8,995.3 756.0,993.2 C753.2,991.1 751.0,988.0 749.0,984.2 C747.0,980.4 745.2,974.7 744.0,970.2 C742.8,965.7 742.3,961.9 741.5,957.2 C740.7,952.5 740.1,949.7 739.0,942.2 C737.9,934.7 735.7,917.2 735.0,912.2 Z" fill="#f6d5d8" stroke="#eeb4ba" stroke-width="0.8" opacity="0.9"/>
<path d="M703.8,708.0 C705.1,713.4 709.1,729.2 711.6,740.6 C714.1,752.0 716.5,763.0 718.7,776.2 C720.9,789.4 723.1,807.6 724.8,819.9 C726.5,832.2 727.8,840.0 729.0,850.0 C730.2,860.0 731.0,870.0 732.0,880.0 C733.0,890.0 733.8,900.0 735.0,910.0 C736.2,920.0 737.9,932.5 739.0,940.0 C740.1,947.5 740.7,950.3 741.5,955.0 C742.3,959.7 742.8,963.5 744.0,968.0 C745.2,972.5 747.0,978.2 749.0,982.0 C751.0,985.8 753.2,988.9 756.0,991.0 C758.8,993.1 761.5,993.8 766.0,994.5 C770.5,995.2 777.8,994.2 782.8,995.4 C787.8,996.6 792.2,998.9 796.3,1001.5 C800.3,1004.1 803.5,1007.8 807.1,1011.0 C810.7,1014.2 814.6,1017.8 818.0,1020.5 C821.4,1023.2 823.9,1026.3 827.5,1027.2 C831.1,1028.1 836.0,1026.0 839.7,1025.9 C843.5,1025.8 847.1,1026.2 850.0,1026.4 C852.9,1026.6 854.1,1025.8 856.8,1027.1 C859.5,1028.4 862.9,1031.2 866.3,1034.5 C869.7,1037.8 873.5,1043.1 877.1,1046.7 C880.7,1050.3 883.8,1053.4 887.9,1056.2 C892.0,1059.0 896.1,1061.7 901.5,1063.7 C906.9,1065.7 913.3,1066.9 920.5,1068.4 C927.7,1069.9 936.3,1071.4 944.9,1072.5 C953.5,1073.6 961.1,1074.5 972.0,1075.2 C982.9,1075.9 981.8,1076.2 1010.0,1076.5 C1038.2,1076.8 1119.2,1076.9 1141.0,1077.0" fill="none" stroke="#c4000c" stroke-width="1.8"/>
<path d="M697.3,708.0 C697.8,716.8 699.3,744.0 700.4,761.0 C701.5,778.0 702.6,796.2 703.6,810.0 C704.6,823.8 705.2,833.7 706.3,843.9 C707.4,854.1 708.7,860.8 710.3,871.0 C711.9,881.2 713.7,893.6 715.7,904.9 C717.7,916.2 719.9,927.8 722.5,938.7 C725.1,949.6 728.5,961.0 731.3,970.3 C734.1,979.6 736.5,987.7 739.4,994.7 C742.3,1001.7 745.5,1008.2 748.9,1012.3 C752.3,1016.4 755.9,1018.2 759.7,1019.1 C763.5,1020.0 767.6,1018.6 771.9,1017.8 C776.2,1017.0 781.4,1014.4 785.5,1014.4 C789.6,1014.4 792.2,1015.4 796.3,1017.8 C800.4,1020.2 804.7,1025.0 809.9,1028.6 C815.1,1032.2 822.5,1038.3 827.5,1039.4 C832.5,1040.5 835.4,1036.8 839.7,1035.4 C844.0,1034.1 850.1,1031.7 853.2,1031.3 C856.3,1030.9 855.2,1031.3 858.1,1033.2 C861.0,1035.1 866.0,1038.6 870.3,1042.7 C874.6,1046.8 879.4,1053.5 883.9,1057.6 C888.4,1061.6 891.8,1064.5 897.4,1067.0 C903.0,1069.5 909.9,1071.1 917.8,1072.5 C925.7,1073.9 933.6,1074.5 944.9,1075.2 C956.2,1075.9 952.8,1076.2 985.5,1076.5 C1018.2,1076.8 1115.1,1076.9 1141.0,1077.0" fill="none" stroke="#c4000c" stroke-width="2" stroke-dasharray="6.5 6.5"/>
</g>
<line x1="108.0" y1="459.8" x2="115.5" y2="459.8" stroke="#000" stroke-width="2.4"/>
<text x="101.5" y="474.0" class="tk" text-anchor="end" transform="translate(0 459.8) scale(1 1.1) translate(0 -459.8)">0</text>
<line x1="108.0" y1="397.3" x2="115.5" y2="397.3" stroke="#000" stroke-width="2.4"/>
<text x="101.5" y="411.5" class="tk" text-anchor="end" transform="translate(0 397.3) scale(1 1.1) translate(0 -397.3)">0.1</text>
<line x1="108.0" y1="334.8" x2="115.5" y2="334.8" stroke="#000" stroke-width="2.4"/>
<text x="101.5" y="349.0" class="tk" text-anchor="end" transform="translate(0 334.8) scale(1 1.1) translate(0 -334.8)">0.2</text>
<line x1="108.0" y1="272.4" x2="115.5" y2="272.4" stroke="#000" stroke-width="2.4"/>
<text x="101.5" y="286.6" class="tk" text-anchor="end" transform="translate(0 272.4) scale(1 1.1) translate(0 -272.4)">0.3</text>
<line x1="108.0" y1="209.9" x2="115.5" y2="209.9" stroke="#000" stroke-width="2.4"/>
<text x="101.5" y="224.1" class="tk" text-anchor="end" transform="translate(0 209.9) scale(1 1.1) translate(0 -209.9)">0.4</text>
<line x1="108.0" y1="147.5" x2="115.5" y2="147.5" stroke="#000" stroke-width="2.4"/>
<text x="101.5" y="161.7" class="tk" text-anchor="end" transform="translate(0 147.5) scale(1 1.1) translate(0 -147.5)">0.5</text>
<line x1="108.0" y1="85.0" x2="115.5" y2="85.0" stroke="#000" stroke-width="2.4"/>
<text x="101.5" y="99.2" class="tk" text-anchor="end" transform="translate(0 85.0) scale(1 1.1) translate(0 -85.0)">0.6</text>
<line x1="137.6" y1="466.0" x2="137.6" y2="473.5" stroke="#000" stroke-width="2.4"/>
<text x="140.0" y="512.0" class="tk" text-anchor="middle" transform="translate(0 512.0) scale(1 1.1) translate(0 -512.0)">300</text>
<line x1="248.2" y1="466.0" x2="248.2" y2="473.5" stroke="#000" stroke-width="2.4"/>
<text x="247.3" y="512.0" class="tk" text-anchor="middle" transform="translate(0 512.0) scale(1 1.1) translate(0 -512.0)">400</text>
<line x1="358.8" y1="466.0" x2="358.8" y2="473.5" stroke="#000" stroke-width="2.4"/>
<text x="362.8" y="512.0" class="tk" text-anchor="middle" transform="translate(0 512.0) scale(1 1.1) translate(0 -512.0)">500</text>
<line x1="469.4" y1="466.0" x2="469.4" y2="473.5" stroke="#000" stroke-width="2.4"/>
<text x="469.8" y="512.0" class="tk" text-anchor="middle" transform="translate(0 512.0) scale(1 1.1) translate(0 -512.0)">600</text>
<line x1="580.0" y1="466.0" x2="580.0" y2="473.5" stroke="#000" stroke-width="2.4"/>
<text x="578.9" y="512.0" class="tk" text-anchor="middle" transform="translate(0 512.0) scale(1 1.1) translate(0 -512.0)">700</text>
<line x1="192.9" y1="466.0" x2="192.9" y2="470.5" stroke="#000" stroke-width="2.4"/>
<line x1="303.5" y1="466.0" x2="303.5" y2="470.5" stroke="#000" stroke-width="2.4"/>
<line x1="414.1" y1="466.0" x2="414.1" y2="470.5" stroke="#000" stroke-width="2.4"/>
<line x1="524.7" y1="466.0" x2="524.7" y2="470.5" stroke="#000" stroke-width="2.4"/>
<rect x="115.5" y="85.0" width="464.5" height="381.0" fill="none" stroke="#000" stroke-width="2.4"/>
<text x="346.2" y="566.3" class="lab" text-anchor="middle">Wavelength (nm)</text>
<text x="0" y="0" class="lab" text-anchor="middle" transform="translate(32.5 266.0) rotate(-90)">Absorbance (mAU)</text>
<line x1="668.0" y1="459.8" x2="675.5" y2="459.8" stroke="#000" stroke-width="2.4"/>
<text x="661.5" y="474.0" class="tk" text-anchor="end" transform="translate(0 459.8) scale(1 1.1) translate(0 -459.8)">0</text>
<line x1="668.0" y1="397.3" x2="675.5" y2="397.3" stroke="#000" stroke-width="2.4"/>
<text x="661.5" y="411.5" class="tk" text-anchor="end" transform="translate(0 397.3) scale(1 1.1) translate(0 -397.3)">0.1</text>
<line x1="668.0" y1="334.8" x2="675.5" y2="334.8" stroke="#000" stroke-width="2.4"/>
<text x="661.5" y="349.0" class="tk" text-anchor="end" transform="translate(0 334.8) scale(1 1.1) translate(0 -334.8)">0.2</text>
<line x1="668.0" y1="272.4" x2="675.5" y2="272.4" stroke="#000" stroke-width="2.4"/>
<text x="661.5" y="286.6" class="tk" text-anchor="end" transform="translate(0 272.4) scale(1 1.1) translate(0 -272.4)">0.3</text>
<line x1="668.0" y1="209.9" x2="675.5" y2="209.9" stroke="#000" stroke-width="2.4"/>
<text x="661.5" y="224.1" class="tk" text-anchor="end" transform="translate(0 209.9) scale(1 1.1) translate(0 -209.9)">0.4</text>
<line x1="668.0" y1="147.5" x2="675.5" y2="147.5" stroke="#000" stroke-width="2.4"/>
<text x="661.5" y="161.7" class="tk" text-anchor="end" transform="translate(0 147.5) scale(1 1.1) translate(0 -147.5)">0.5</text>
<line x1="668.0" y1="85.0" x2="675.5" y2="85.0" stroke="#000" stroke-width="2.4"/>
<text x="661.5" y="99.2" class="tk" text-anchor="end" transform="translate(0 85.0) scale(1 1.1) translate(0 -85.0)">0.6</text>
<line x1="697.6" y1="466.0" x2="697.6" y2="473.5" stroke="#000" stroke-width="2.4"/>
<text x="700.0" y="512.0" class="tk" text-anchor="middle" transform="translate(0 512.0) scale(1 1.1) translate(0 -512.0)">300</text>
<line x1="808.4" y1="466.0" x2="808.4" y2="473.5" stroke="#000" stroke-width="2.4"/>
<text x="807.5" y="512.0" class="tk" text-anchor="middle" transform="translate(0 512.0) scale(1 1.1) translate(0 -512.0)">400</text>
<line x1="919.1" y1="466.0" x2="919.1" y2="473.5" stroke="#000" stroke-width="2.4"/>
<text x="923.1" y="512.0" class="tk" text-anchor="middle" transform="translate(0 512.0) scale(1 1.1) translate(0 -512.0)">500</text>
<line x1="1029.8" y1="466.0" x2="1029.8" y2="473.5" stroke="#000" stroke-width="2.4"/>
<text x="1030.2" y="512.0" class="tk" text-anchor="middle" transform="translate(0 512.0) scale(1 1.1) translate(0 -512.0)">600</text>
<line x1="1140.5" y1="466.0" x2="1140.5" y2="473.5" stroke="#000" stroke-width="2.4"/>
<text x="1133.0" y="512.0" class="tk" text-anchor="middle" transform="translate(0 512.0) scale(1 1.1) translate(0 -512.0)">700</text>
<line x1="753.0" y1="466.0" x2="753.0" y2="470.5" stroke="#000" stroke-width="2.4"/>
<line x1="863.7" y1="466.0" x2="863.7" y2="470.5" stroke="#000" stroke-width="2.4"/>
<line x1="974.4" y1="466.0" x2="974.4" y2="470.5" stroke="#000" stroke-width="2.4"/>
<line x1="1085.1" y1="466.0" x2="1085.1" y2="470.5" stroke="#000" stroke-width="2.4"/>
<rect x="675.5" y="85.0" width="465.0" height="381.0" fill="none" stroke="#000" stroke-width="2.4"/>
<text x="906.5" y="566.3" class="lab" text-anchor="middle">Wavelength (nm)</text>
<line x1="108.5" y1="1076.7" x2="116.0" y2="1076.7" stroke="#000" stroke-width="2.4"/>
<text x="102.0" y="1090.9" class="tk" text-anchor="end" transform="translate(0 1076.7) scale(1 1.1) translate(0 -1076.7)">0</text>
<line x1="108.5" y1="953.8" x2="116.0" y2="953.8" stroke="#000" stroke-width="2.4"/>
<text x="102.0" y="968.0" class="tk" text-anchor="end" transform="translate(0 953.8) scale(1 1.1) translate(0 -953.8)">0.1</text>
<line x1="108.5" y1="830.9" x2="116.0" y2="830.9" stroke="#000" stroke-width="2.4"/>
<text x="102.0" y="845.1" class="tk" text-anchor="end" transform="translate(0 830.9) scale(1 1.1) translate(0 -830.9)">0.2</text>
<line x1="108.5" y1="708.0" x2="116.0" y2="708.0" stroke="#000" stroke-width="2.4"/>
<text x="102.0" y="722.2" class="tk" text-anchor="end" transform="translate(0 708.0) scale(1 1.1) translate(0 -708.0)">0.3</text>
<line x1="111.5" y1="1015.3" x2="116.0" y2="1015.3" stroke="#000" stroke-width="2.4"/>
<line x1="111.5" y1="892.4" x2="116.0" y2="892.4" stroke="#000" stroke-width="2.4"/>
<line x1="111.5" y1="769.5" x2="116.0" y2="769.5" stroke="#000" stroke-width="2.4"/>
<line x1="138.1" y1="1089.0" x2="138.1" y2="1096.5" stroke="#000" stroke-width="2.4"/>
<text x="134.7" y="1136.0" class="tk" text-anchor="middle" transform="translate(0 1136.0) scale(1 1.1) translate(0 -1136.0)">300</text>
<line x1="248.7" y1="1089.0" x2="248.7" y2="1096.5" stroke="#000" stroke-width="2.4"/>
<text x="245.3" y="1136.0" class="tk" text-anchor="middle" transform="translate(0 1136.0) scale(1 1.1) translate(0 -1136.0)">400</text>
<line x1="359.3" y1="1089.0" x2="359.3" y2="1096.5" stroke="#000" stroke-width="2.4"/>
<text x="357.9" y="1136.0" class="tk" text-anchor="middle" transform="translate(0 1136.0) scale(1 1.1) translate(0 -1136.0)">500</text>
<line x1="469.9" y1="1089.0" x2="469.9" y2="1096.5" stroke="#000" stroke-width="2.4"/>
<text x="468.3" y="1136.0" class="tk" text-anchor="middle" transform="translate(0 1136.0) scale(1 1.1) translate(0 -1136.0)">600</text>
<line x1="580.5" y1="1089.0" x2="580.5" y2="1096.5" stroke="#000" stroke-width="2.4"/>
<text x="575.8" y="1136.0" class="tk" text-anchor="middle" transform="translate(0 1136.0) scale(1 1.1) translate(0 -1136.0)">700</text>
<line x1="193.4" y1="1089.0" x2="193.4" y2="1093.5" stroke="#000" stroke-width="2.4"/>
<line x1="304.0" y1="1089.0" x2="304.0" y2="1093.5" stroke="#000" stroke-width="2.4"/>
<line x1="414.6" y1="1089.0" x2="414.6" y2="1093.5" stroke="#000" stroke-width="2.4"/>
<line x1="525.2" y1="1089.0" x2="525.2" y2="1093.5" stroke="#000" stroke-width="2.4"/>
<rect x="116.0" y="708.0" width="464.5" height="381.0" fill="none" stroke="#000" stroke-width="2.4"/>
<text x="355.2" y="1190.1" class="lab" text-anchor="middle">Wavelength (nm)</text>
<text x="0" y="0" class="lab" text-anchor="middle" transform="translate(33.0 902.7) rotate(-90)">Absorbance (mAU)</text>
<line x1="668.5" y1="1076.7" x2="676.0" y2="1076.7" stroke="#000" stroke-width="2.4"/>
<text x="662.0" y="1090.9" class="tk" text-anchor="end" transform="translate(0 1076.7) scale(1 1.1) translate(0 -1076.7)">0</text>
<line x1="668.5" y1="953.8" x2="676.0" y2="953.8" stroke="#000" stroke-width="2.4"/>
<text x="662.0" y="968.0" class="tk" text-anchor="end" transform="translate(0 953.8) scale(1 1.1) translate(0 -953.8)">0.1</text>
<line x1="668.5" y1="830.9" x2="676.0" y2="830.9" stroke="#000" stroke-width="2.4"/>
<text x="662.0" y="845.1" class="tk" text-anchor="end" transform="translate(0 830.9) scale(1 1.1) translate(0 -830.9)">0.2</text>
<line x1="668.5" y1="708.0" x2="676.0" y2="708.0" stroke="#000" stroke-width="2.4"/>
<text x="662.0" y="722.2" class="tk" text-anchor="end" transform="translate(0 708.0) scale(1 1.1) translate(0 -708.0)">0.3</text>
<line x1="671.5" y1="1015.3" x2="676.0" y2="1015.3" stroke="#000" stroke-width="2.4"/>
<line x1="671.5" y1="892.4" x2="676.0" y2="892.4" stroke="#000" stroke-width="2.4"/>
<line x1="671.5" y1="769.5" x2="676.0" y2="769.5" stroke="#000" stroke-width="2.4"/>
<line x1="698.1" y1="1089.0" x2="698.1" y2="1096.5" stroke="#000" stroke-width="2.4"/>
<text x="694.7" y="1136.0" class="tk" text-anchor="middle" transform="translate(0 1136.0) scale(1 1.1) translate(0 -1136.0)">300</text>
<line x1="808.8" y1="1089.0" x2="808.8" y2="1096.5" stroke="#000" stroke-width="2.4"/>
<text x="805.4" y="1136.0" class="tk" text-anchor="middle" transform="translate(0 1136.0) scale(1 1.1) translate(0 -1136.0)">400</text>
<line x1="919.4" y1="1089.0" x2="919.4" y2="1096.5" stroke="#000" stroke-width="2.4"/>
<text x="918.0" y="1136.0" class="tk" text-anchor="middle" transform="translate(0 1136.0) scale(1 1.1) translate(0 -1136.0)">500</text>
<line x1="1030.1" y1="1089.0" x2="1030.1" y2="1096.5" stroke="#000" stroke-width="2.4"/>
<text x="1028.5" y="1136.0" class="tk" text-anchor="middle" transform="translate(0 1136.0) scale(1 1.1) translate(0 -1136.0)">600</text>
<line x1="1140.7" y1="1089.0" x2="1140.7" y2="1096.5" stroke="#000" stroke-width="2.4"/>
<text x="1132.2" y="1136.0" class="tk" text-anchor="middle" transform="translate(0 1136.0) scale(1 1.1) translate(0 -1136.0)">700</text>
<line x1="753.5" y1="1089.0" x2="753.5" y2="1093.5" stroke="#000" stroke-width="2.4"/>
<line x1="864.1" y1="1089.0" x2="864.1" y2="1093.5" stroke="#000" stroke-width="2.4"/>
<line x1="974.7" y1="1089.0" x2="974.7" y2="1093.5" stroke="#000" stroke-width="2.4"/>
<line x1="1085.4" y1="1089.0" x2="1085.4" y2="1093.5" stroke="#000" stroke-width="2.4"/>
<rect x="676.0" y="708.0" width="464.7" height="381.0" fill="none" stroke="#000" stroke-width="2.4"/>
<text x="915.4" y="1190.1" class="lab" text-anchor="middle">Wavelength (nm)</text>
<text x="172" y="252.5" class="an" transform="translate(0 252.5) scale(1 1.06) translate(0 -252.5)">340 nm</text>
<line x1="194.8" y1="259.4" x2="184.1" y2="279.7" stroke="#000" stroke-width="1.8"/>
<text x="225" y="292.5" class="an" transform="translate(0 292.5) scale(1 1.06) translate(0 -292.5)">376 nm</text>
<line x1="241.4" y1="296.5" x2="219.4" y2="315.6" stroke="#000" stroke-width="1.8"/>
<line x1="255" y1="340.4" x2="255" y2="359.5" stroke="#000" stroke-width="2"/><polygon points="255,335.4 251,342.9 259,342.9" fill="#000"/>
<text x="261" y="358.5" class="an" transform="translate(0 358.5) scale(1 1.06) translate(0 -358.5)">474 nm</text>
<line x1="317.3" y1="365.5" x2="329.5" y2="374" stroke="#000" stroke-width="1.8"/>
<line x1="339.6" y1="313.2" x2="339.6" y2="332.3" stroke="#000" stroke-width="2"/><polygon points="339.6,337.3 335.6,329.8 343.6,329.8" fill="#000"/>
<text x="347.5" y="334.9" class="an" transform="translate(0 334.9) scale(1 1.06) translate(0 -334.9)">520 nm</text>
<line x1="383.3" y1="341.3" x2="383.3" y2="355.6" stroke="#000" stroke-width="1.8"/>
<text x="723.5" y="207.8" class="an" transform="translate(0 207.8) scale(1 1.06) translate(0 -207.8)">354 nm</text>
<line x1="752.5" y1="212.5" x2="752.5" y2="226.4" stroke="#000" stroke-width="1.8"/>
<text x="764.7" y="247.4" class="an" transform="translate(0 247.4) scale(1 1.06) translate(0 -247.4)">340 nm</text>
<line x1="776" y1="255" x2="743.6" y2="281.1" stroke="#000" stroke-width="1.8"/>
<text x="907.1" y="328.1" class="an" transform="translate(0 328.1) scale(1 1.06) translate(0 -328.1)">520 nm</text>
<line x1="943.3" y1="332.7" x2="943.3" y2="347.2" stroke="#000" stroke-width="1.8"/>
<line x1="245.7" y1="879.5" x2="245.7" y2="898.2" stroke="#000" stroke-width="2"/><polygon points="245.7,874.5 241.7,882.0 249.7,882.0" fill="#000"/>
<text x="253.5" y="896.9" class="an" transform="translate(0 896.9) scale(1 1.06) translate(0 -896.9)">438 nm</text>
<line x1="286.5" y1="903.2" x2="286.5" y2="917.4" stroke="#000" stroke-width="1.8"/>
<text x="752" y="964.5" class="an" transform="translate(0 964.5) scale(1 1.06) translate(0 -964.5)">380 nm</text>
<line x1="784.1" y1="971.7" x2="784.1" y2="985.5" stroke="#000" stroke-width="1.8"/>
<text x="819" y="997.4" class="an" transform="translate(0 997.4) scale(1 1.06) translate(0 -997.4)">438 nm</text>
<line x1="852.1" y1="1004.2" x2="852.1" y2="1017.8" stroke="#000" stroke-width="1.8"/>

<text x="2" y="39" class="ttl">(A)</text>
<text x="138" y="39.2" class="ttl">Methyl cob(III)alamin</text>
<text x="601" y="39" class="ttl">(B)</text>
<text x="677.5" y="41.2" class="ttl">MeCbl<tspan class="sup" dy="-17.5">III</tspan><tspan dy="17.5">, no-cell-control</tspan></text>
<text x="2" y="659.5" class="ttl">(C)</text>
<text x="114.7" y="659.4" class="ttl">Methyl cobaloxime(III)</text>
<text x="601" y="659.5" class="ttl">(D)</text>
<text x="667.2" y="661.1" class="ttl">MeCoOx<tspan class="sup" dy="-17.5">III</tspan><tspan dy="17.5">, no-cell-control</tspan></text>

<line x1="371.2" y1="107.9" x2="408.2" y2="107.9" stroke="#0000ff" stroke-width="2.2" stroke-dasharray="7.4 7.5"/>
<text x="422" y="116.6" class="lg">MeCbl<tspan class="ss" dy="-12">III</tspan><tspan dy="12">: t</tspan><tspan class="ss" dy="5.2">0</tspan></text>
<line x1="371.2" y1="141.2" x2="408.2" y2="141.2" stroke="#0000ff" stroke-width="2.2"/>
<text x="422" y="150.05" class="lg">MeCbl<tspan class="ss" dy="-12">III</tspan><tspan dy="12">: t</tspan><tspan class="ss" dy="5.2">End</tspan></text>
<line x1="371.2" y1="174.9" x2="408.2" y2="174.9" stroke="#ee7a24" stroke-width="2.2"/>
<text x="422" y="185.1" class="lg">NC: t<tspan class="ss" dy="5.2">End</tspan></text>
<line x1="963.2" y1="105" x2="1000.5" y2="105" stroke="#c4000c" stroke-width="2.2" stroke-dasharray="7.4 7.5"/>
<text x="1013.5" y="115.5" class="lg">NCC: t<tspan class="ss" dy="5.2">0</tspan></text>
<line x1="963.2" y1="138.3" x2="1000.5" y2="138.3" stroke="#c4000c" stroke-width="2.2"/>
<text x="1013.5" y="148.5" class="lg">NCC: t<tspan class="ss" dy="5.2">End</tspan></text>
<line x1="340.2" y1="731.2" x2="377.1" y2="731.2" stroke="#008000" stroke-width="2.2" stroke-dasharray="7.4 7.5"/>
<text x="391" y="740.1" class="lg">MeCoOx<tspan class="ss" dy="-12">III</tspan><tspan dy="12">: t</tspan><tspan class="ss" dy="5.2">0</tspan></text>
<line x1="340.2" y1="764.6" x2="377.1" y2="764.6" stroke="#008000" stroke-width="2.2"/>
<text x="391" y="773.1" class="lg">MeCoOx<tspan class="ss" dy="-12">III</tspan><tspan dy="12">: t</tspan><tspan class="ss" dy="5.2">End</tspan></text>
<line x1="340.2" y1="798.4" x2="377.1" y2="798.4" stroke="#e85c08" stroke-width="2.2"/>
<text x="391" y="808.4" class="lg">NC: t<tspan class="ss" dy="5.2">End</tspan></text>
<line x1="963.2" y1="728.4" x2="1000.5" y2="728.4" stroke="#c4000c" stroke-width="2.2" stroke-dasharray="7.4 7.5"/>
<text x="1013.5" y="738.5" class="lg">NCC: t<tspan class="ss" dy="5.2">0</tspan></text>
<line x1="963.2" y1="761.4" x2="1000.5" y2="761.4" stroke="#c4000c" stroke-width="2.2"/>
<text x="1013.5" y="771.4" class="lg">NCC: t<tspan class="ss" dy="5.2">End</tspan></text>
</svg>
</body></html>
